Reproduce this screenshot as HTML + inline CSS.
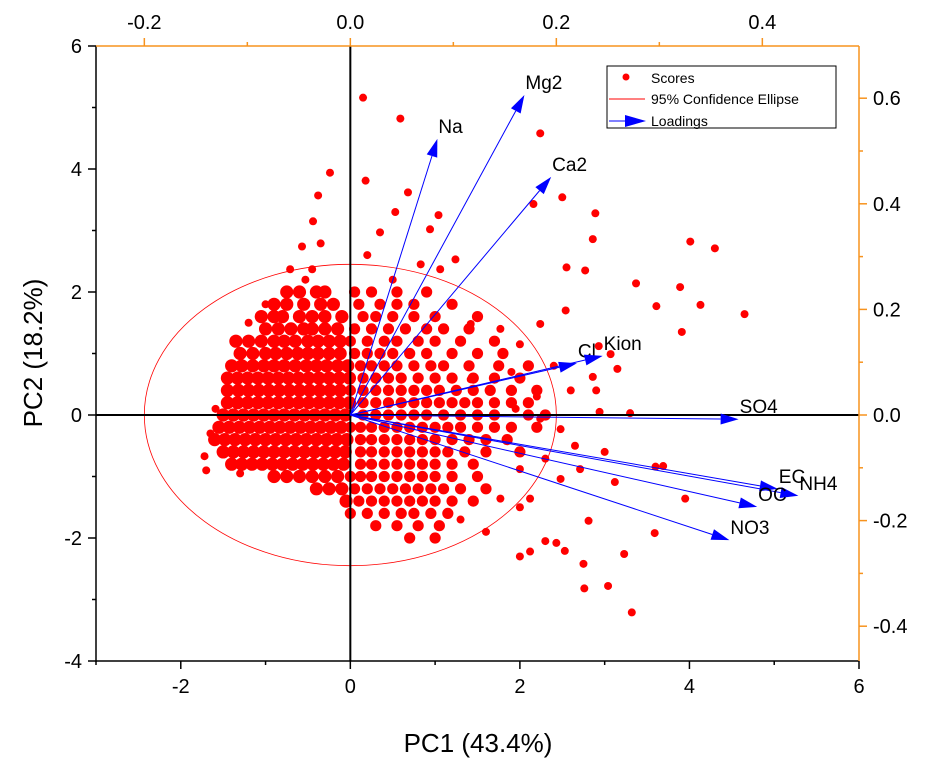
<!DOCTYPE html>
<html><head><meta charset="utf-8"><style>
html,body{margin:0;padding:0;background:#fff;}
svg{display:block;font-family:"Liberation Sans",Arial,sans-serif;}
</style></head><body>
<svg id="chart" width="927" height="773" viewBox="0 0 927 773" xmlns="http://www.w3.org/2000/svg">
<g id="scores"></g>
<g id="ellipse-layer"></g>
<g id="axes"></g>
<g id="loadings"></g>
<g id="legend">
  <rect x="607" y="66" width="229" height="62" fill="#fff" stroke="#000" stroke-width="1"/>
  <circle cx="626" cy="77" r="3.5" fill="#ff0000"/>
  <text x="651" y="83" font-size="14">Scores</text>
  <line x1="609" y1="99" x2="645" y2="99" stroke="#ff0000" stroke-width="1"/>
  <text x="651" y="104" font-size="14">95% Confidence Ellipse</text>
  <line x1="609" y1="121" x2="632" y2="121" stroke="#0000ff" stroke-width="1"/>
  <polygon points="625,115 646,121 625,127" fill="#0000ff"/>
  <text x="651" y="126" font-size="14">Loadings</text>
</g>
<text x="478" y="752" font-size="26" text-anchor="middle">PC1 (43.4%)</text>
<text transform="translate(42,353) rotate(-90)" font-size="26" text-anchor="middle">PC2 (18.2%)</text>
</svg>
<script>
// ---- data ----
const xTicks=[-2,0,2,4,6];
const yTicks=[-4,-2,0,2,4,6];
const topTicks=[-0.2,0.0,0.2,0.4];
const rightTicks=[-0.4,-0.2,0.0,0.2,0.4,0.6];
const loadNames=["Na","Mg2","Ca2","Cl","Kion","SO4","EC","NH4","OC","NO3"];
const loadX=[0.0845,0.169,0.195,0.220,0.245,0.377,0.415,0.435,0.395,0.368];
const loadY=[0.523,0.606,0.451,0.098,0.112,-0.008,-0.140,-0.153,-0.174,-0.237];
const ellipseRx=2.43;
const ellipseRy=2.45;
const rowsY=[2.0,1.8,1.6,1.4,1.2,1.0,0.8,0.6,0.4,0.2,0.0,-0.2,-0.4,-0.6,-0.8,-1.0,-1.2,-1.4,-1.6,-1.8,-2.0];
const rowsX=[
[-0.75,-0.6,-0.4,-0.3,0.05,0.25,0.55,0.9],
[-0.9,-0.75,-0.55,-0.35,-0.2,0.1,0.35,0.55,0.75,1.2],
[-1.05,-0.9,-0.8,-0.6,-0.45,-0.3,-0.1,0.15,0.3,0.5,0.75,1.0,1.5],
[-1.0,-0.85,-0.7,-0.55,-0.45,-0.3,-0.15,0.05,0.25,0.45,0.65,0.9,1.1,1.4],
[-1.35,-1.2,-1.05,-0.9,-0.78,-0.65,-0.5,-0.38,-0.25,-0.12,0.0,0.2,0.4,0.55,0.8,1.0,1.3,1.7],
[-1.3,-1.15,-1.0,-0.88,-0.75,-0.62,-0.5,-0.38,-0.25,-0.12,0.05,0.2,0.35,0.5,0.7,0.9,1.2,1.5,1.8],
[-1.4,-1.28,-1.15,-1.02,-0.9,-0.78,-0.65,-0.52,-0.4,-0.28,-0.15,-0.03,0.12,0.25,0.4,0.55,0.75,0.95,1.1,1.4,1.75,2.1],
[-1.45,-1.33,-1.21,-1.09,-0.97,-0.85,-0.73,-0.61,-0.49,-0.37,-0.25,-0.13,-0.01,0.15,0.3,0.45,0.6,0.8,1.0,1.2,1.45,1.7,2.0],
[-1.45,-1.32,-1.2,-1.08,-0.96,-0.84,-0.72,-0.6,-0.48,-0.36,-0.24,-0.12,0.0,0.15,0.3,0.45,0.6,0.75,0.9,1.05,1.25,1.45,1.65,1.9,2.2],
[-1.45,-1.33,-1.21,-1.09,-0.97,-0.85,-0.73,-0.61,-0.49,-0.37,-0.25,-0.13,-0.01,0.15,0.3,0.45,0.6,0.75,0.9,1.05,1.2,1.35,1.5,1.7,1.9,2.1],
[-1.5,-1.38,-1.26,-1.14,-1.02,-0.9,-0.78,-0.66,-0.54,-0.42,-0.3,-0.18,-0.06,0.15,0.3,0.45,0.6,0.75,0.9,1.1,1.3,1.5,1.7,2.1,2.3],
[-1.55,-1.43,-1.31,-1.19,-1.07,-0.95,-0.83,-0.71,-0.59,-0.47,-0.35,-0.23,-0.11,0.0,0.12,0.25,0.4,0.55,0.7,0.85,1.0,1.15,1.3,1.5,1.7,1.9,2.2],
[-1.6,-1.48,-1.36,-1.24,-1.12,-1.0,-0.88,-0.76,-0.64,-0.52,-0.4,-0.28,-0.16,-0.04,0.12,0.25,0.4,0.55,0.7,0.85,1.0,1.2,1.4,1.6,1.85],
[-1.5,-1.38,-1.26,-1.14,-1.02,-0.9,-0.78,-0.66,-0.54,-0.42,-0.3,-0.18,-0.06,0.12,0.25,0.4,0.55,0.7,0.85,1.0,1.15,1.35,1.6,2.0],
[-1.4,-1.28,-1.16,-1.04,-0.92,-0.8,-0.68,-0.56,-0.44,-0.32,-0.2,-0.08,0.12,0.25,0.4,0.55,0.7,0.85,1.0,1.2,1.45],
[-0.9,-0.75,-0.6,-0.45,-0.3,-0.15,0.0,0.12,0.25,0.4,0.55,0.7,0.85,1.0,1.2,1.5],
[-0.4,-0.25,-0.1,0.05,0.2,0.35,0.5,0.65,0.8,0.95,1.1,1.3,1.6],
[-0.05,0.1,0.25,0.4,0.55,0.7,0.85,1.0,1.2,1.45],
[0.0,0.2,0.4,0.6,0.75,0.95,1.15],
[0.3,0.55,0.8,1.05],
[0.7,1.0]
];
const outX=[0.15,0.59,0.18,-0.24,0.68,1.04,0.35,0.83,1.24,1.42,2.24,2.5,2.16,2.89,2.86,2.77,2.55,2.54,2.24,3.07,3.37,4.01,4.30,3.61,3.89,4.13,4.65,3.91,2.93,2.86,3.15,2.94,3.30,3.60,3.69,3.12,3.95,2.81,2.30,2.43,2.75,2.53,3.23,3.59,3.04,2.76,3.32,2.12,2.0,-1.72,-1.59,-0.38,-0.44,-0.57,-0.35,-0.71,-0.45,-0.53,0.53,0.94,1.06,1.77,2.0,1.42,1.95,2.24,2.48,2.3,2.0,1.77,2.12,2.48,2.71,2.6,2.4,2.2,1.9,2.65,3.0,2.9,-1.65,-1.7,-1.3,-1.2,-1.0,0.5,0.2,1.3,1.6,2.0];
const outY=[5.16,4.82,3.81,3.94,3.62,3.25,2.97,2.45,2.53,1.48,4.58,3.54,3.43,3.28,2.86,2.35,2.40,1.70,1.48,0.99,2.14,2.82,2.71,1.77,2.08,1.79,1.64,1.35,1.12,0.62,0.75,0.05,0.03,-0.84,-0.83,-1.09,-1.36,-1.72,-2.05,-2.08,-2.42,-2.21,-2.26,-1.92,-2.78,-2.82,-3.21,-2.22,-2.3,-0.67,0.1,3.57,3.15,2.74,2.79,2.37,2.37,2.2,3.3,3.02,2.37,1.40,1.15,0.58,0.1,-0.06,-0.23,-0.71,-0.88,-1.36,-1.36,-1.04,-0.88,0.4,0.8,0.3,0.7,-0.5,-0.6,0.4,-0.3,-0.9,-0.95,1.5,1.8,2.2,2.6,-1.7,-1.9,-1.5];

// ---- scales ----
const X0=96,X1=859,Y0=46,Y1=661;
const sx=v=>X0+(v-(-3))/(6-(-3))*(X1-X0);
const sy=v=>Y1-(v-(-4))/(6-(-4))*(Y1-Y0);
const lx=v=>sx(0)+v*1030;
const ly=v=>sy(0)-v*528;
const NS="http://www.w3.org/2000/svg";
function mk(tag,attrs,parent){const e=document.createElementNS(NS,tag);for(const k in attrs)e.setAttribute(k,attrs[k]);parent.appendChild(e);return e;}

// ---- scores ----
const gS=document.getElementById('scores');
rowsY.forEach((yv,i)=>{rowsX[i].forEach(xv=>{
  const c=mk('circle',{cx:sx(xv),cy:sy(yv),r:(xv<0?6.6:5.6),fill:'#ff0000'},gS);
  
  
});});
outX.forEach((xv,i)=>{
  const c=mk('circle',{cx:sx(xv),cy:sy(outY[i]),r:4,fill:'#ff0000'},gS);
  
  
});

// ---- ellipse ----
const gE=document.getElementById('ellipse-layer');
const el=mk('ellipse',{cx:sx(0),cy:sy(0),rx:sx(ellipseRx)-sx(0),ry:sy(0)-sy(ellipseRy),fill:'none',stroke:'#ff0000','stroke-width':0.8},gE);



// ---- axes ----
const gA=document.getElementById('axes');
const ORG='#f7931e';
let l;
l=mk('line',{x1:sx(0),y1:Y0,x2:sx(0),y2:Y1,stroke:'#000','stroke-width':2},gA);


l=mk('line',{x1:X0,y1:sy(0),x2:X1,y2:sy(0),stroke:'#000','stroke-width':2},gA);


l=mk('line',{x1:X0,y1:Y0,x2:X0,y2:Y1+1,stroke:'#000','stroke-width':1.5},gA);


l=mk('line',{x1:X0,y1:Y1,x2:X1,y2:Y1,stroke:'#000','stroke-width':1.5},gA);


l=mk('line',{x1:X0,y1:Y0,x2:X1,y2:Y0,stroke:ORG,'stroke-width':1.5},gA);


l=mk('line',{x1:X1,y1:Y0,x2:X1,y2:Y1,stroke:ORG,'stroke-width':1.5},gA);



for(let v=-3;v<=6;v++){const x=sx(v);const major=xTicks.includes(v);
  const t=mk('line',{x1:x,y1:Y1,x2:x,y2:Y1+(major?8:4),stroke:'#000','stroke-width':1.5},gA);
  
  }
xTicks.forEach(v=>{const t=mk('text',{x:sx(v),y:Y1+32,'font-size':20,'text-anchor':'middle'},gA);t.textContent=v;
  
  });
for(let v=-4;v<=6;v++){const y=sy(v);const major=yTicks.includes(v);
  const t=mk('line',{x1:X0,y1:y,x2:X0-(major?8:4),y2:y,stroke:'#000','stroke-width':1.5},gA);
  
  }
yTicks.forEach(v=>{const t=mk('text',{x:X0-14,y:sy(v)+7,'font-size':20,'text-anchor':'end'},gA);t.textContent=v;
  
  });
for(let k=-2;k<=5;k++){const v=k/10;const x=lx(v);if(x<X0||x>X1)continue;const major=k%2===0;
  const t=mk('line',{x1:x,y1:Y0,x2:x,y2:Y0-(major?8:4),stroke:ORG,'stroke-width':1.5},gA);
  
  }
topTicks.forEach(v=>{const t=mk('text',{x:lx(v),y:Y0-17,'font-size':20,'text-anchor':'middle'},gA);t.textContent=v.toFixed(1);
  
  });
for(let k=-4;k<=7;k++){const v=k/10;const y=ly(v);if(y<Y0||y>Y1)continue;const major=k%2===0;
  const t=mk('line',{x1:X1,y1:y,x2:X1+(major?8:4),y2:y,stroke:ORG,'stroke-width':1.5},gA);
  
  }
rightTicks.forEach(v=>{const t=mk('text',{x:X1+14,y:ly(v)+7,'font-size':20,'text-anchor':'start'},gA);t.textContent=v.toFixed(1);
  
  });

// ---- loadings ----
const gL=document.getElementById('loadings');
const ox=sx(0),oy=sy(0);
loadNames.forEach((nm,i)=>{
  const tx=lx(loadX[i]),ty=ly(loadY[i]);
  const dx=tx-ox,dy=ty-oy,len=Math.hypot(dx,dy),ux=dx/len,uy=dy/len;
  const bx=tx-ux*18,by=ty-uy*18;
  const ln=mk('line',{x1:ox,y1:oy,x2:bx,y2:by,stroke:'#0000ff','stroke-width':1},gL);
  
  
  const pts=[[tx,ty],[bx-uy*5.5,by+ux*5.5],[bx+uy*5.5,by-ux*5.5]].map(p=>p.join(',')).join(' ');
  const ar=mk('polygon',{points:pts,fill:'#0000ff'},gL);
  
  
  const tt=mk('text',{x:tx+1,y:ty-6,'font-size':19},gL);tt.textContent=nm;
  
  
});
</script>
</body></html>
